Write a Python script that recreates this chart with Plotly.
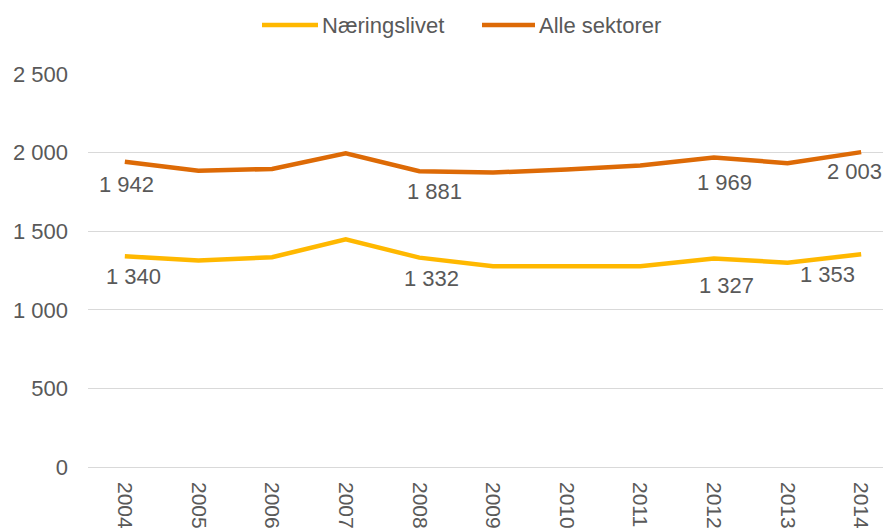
import plotly.graph_objects as go

years = ["2004", "2005", "2006", "2007", "2008", "2009", "2010", "2011", "2012", "2013", "2014"]
naeringslivet = [1340, 1313, 1334, 1449, 1332, 1277, 1277, 1277, 1327, 1300, 1353]
alle_sektorer = [1942, 1885, 1896, 1995, 1881, 1873, 1893, 1918, 1969, 1933, 2003]
series_names = ["Næringslivet", "Alle sektorer"]
labelled_years = ["2004", "2008", "2012", "2014"]
y_ticks = [0, 500, 1000, 1500, 2000, 2500]

def fmt(v):
    return f"{v:,}".replace(",", " ")

# ---- style ----
FONT = "Liberation Sans, Arial, sans-serif"
font_col = "#595959"
FS = 22
colors = ["#FFB800", "#DD6A06"]
W, H = 891, 532
ML, MR, MT, MB = 80, 1, 66, 73   # page body adds 8px offset
PW, PH = W - ML - MR, H - MT - MB

# label offsets (style only)
shift_alle = {"2004": (2, -23), "2008": (15, -20), "2012": (11, -25), "2014": (-7, -19)}
shift_naer = {"2004": (9, -20), "2008": (12, -21), "2012": (13, -27), "2014": (-34, -20)}

fig = go.Figure()
for name, vals, col in zip(series_names, [naeringslivet, alle_sektorer], colors):
    fig.add_trace(go.Scatter(x=years, y=vals, mode="lines", name=name,
                             line=dict(color=col, width=4.5), showlegend=False))

for series, shifts in ((alle_sektorer, shift_alle), (naeringslivet, shift_naer)):
    for yr in labelled_years:
        i = years.index(yr)
        xs, ys = shifts[yr]
        fig.add_annotation(x=i, y=series[i], xref="x", yref="y", text=fmt(series[i]),
                           showarrow=False, xshift=xs, yshift=ys,
                           font=dict(family=FONT, size=FS, color=font_col))

# custom legend (pixel layout converted to paper coords)
def px_x(px):
    return (px - ML) / PW

def px_y(py):
    return (H - MB - py) / PH

legend_items = [(254, 310, 312), (474, 527, 529)]  # line start, line end, text start (figure px)
leg_y = 17
for (x0, x1, tx), name, col in zip(legend_items, series_names, colors):
    fig.add_shape(type="line", xref="paper", yref="paper", x0=px_x(x0), x1=px_x(x1),
                  y0=px_y(leg_y), y1=px_y(leg_y), line=dict(color=col, width=4.5))
    fig.add_annotation(xref="paper", yref="paper", x=px_x(tx), y=px_y(leg_y), text=name,
                       showarrow=False, xanchor="left", yanchor="middle",
                       font=dict(family=FONT, size=FS, color=font_col))

fig.update_layout(
    width=W, height=H,
    margin=dict(l=ML, r=MR, t=MT, b=MB, autoexpand=False),
    paper_bgcolor="white", plot_bgcolor="white",
    font=dict(family=FONT, size=FS, color=font_col),
    showlegend=False,
)
fig.update_xaxes(type="category", range=[-0.5, 10.5], tickangle=90, showgrid=False,
                 showline=False, ticks="", automargin=False,
                 tickfont=dict(family=FONT, size=21, color=font_col), ticklabelstandoff=14)
fig.update_yaxes(range=[0, 2500], tickvals=y_ticks, ticktext=[fmt(v) for v in y_ticks],
                 showgrid=True, gridcolor="#D9D9D9", gridwidth=1.3, zeroline=True,
                 zerolinecolor="#D9D9D9", zerolinewidth=1.3, showline=False, automargin=False,
                 tickfont=dict(family=FONT, size=FS, color=font_col), ticklabelstandoff=19)

fig.write_html("out.html")
